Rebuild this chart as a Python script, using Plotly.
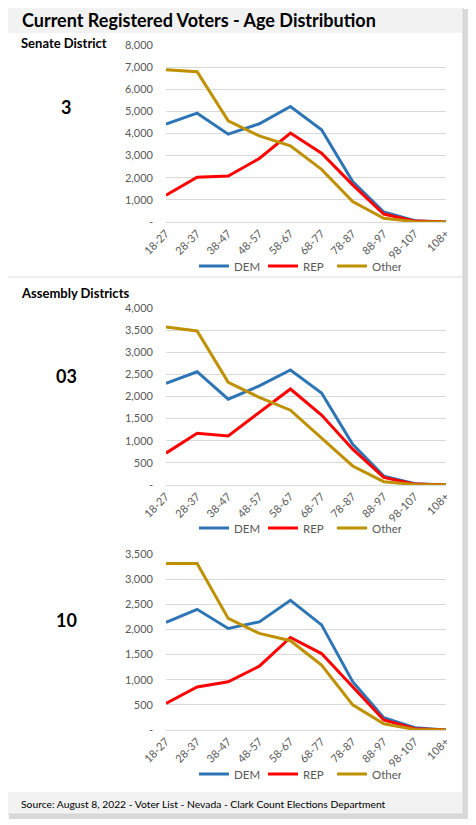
import plotly.graph_objects as go

# age bands shared by all three charts
age_groups = ['18-27', '28-37', '38-47', '48-57', '58-67',
              '68-77', '78-87', '88-97', '98-107', '108+']

# Senate District 3
sd3_dem = [4420, 4920, 3970, 4440, 5220, 4170, 1830, 450, 60, 5]
sd3_rep = [1210, 2020, 2080, 2870, 4020, 3110, 1680, 360, 40, 0]
sd3_other = [6880, 6790, 4570, 3890, 3440, 2380, 920, 170, 15, 0]

# Assembly District 03
ad03_dem = [2300, 2560, 1940, 2240, 2600, 2080, 920, 200, 30, 0]
ad03_rep = [720, 1170, 1110, 1640, 2170, 1580, 810, 170, 20, 0]
ad03_other = [3570, 3480, 2320, 1980, 1690, 1060, 430, 75, 10, 0]

# Assembly District 10
ad10_dem = [2140, 2400, 2020, 2150, 2580, 2090, 960, 245, 45, 0]
ad10_rep = [530, 855, 960, 1270, 1840, 1520, 860, 200, 25, 0]
ad10_other = [3310, 3310, 2220, 1920, 1775, 1290, 500, 125, 10, 0]

party_names = ['DEM', 'REP', 'Other']
party_colors = ['#2e75b6', '#ff0000', '#bf9000']

# the page body adds an 8px margin, so the figure is made 8px smaller
OFF = 8
W, H = 476 - OFF, 825 - OFF
FONT = 'Lato'


def px_x(v):
    return (v - OFF) / W


def px_y(v):
    # pixel from top of the window -> paper fraction
    return 1 - (v - OFF) / H


fig = go.Figure()

charts = [
    # (series, y max, tick step, top px, bottom px, legend y px)
    ([sd3_dem, sd3_rep, sd3_other], 8000, 1000, 45, 222, 266),
    ([ad03_dem, ad03_rep, ad03_other], 4000, 500, 308, 485, 528),
    ([ad10_dem, ad10_rep, ad10_other], 3500, 500, 554, 730, 774),
]

for i, (series, ymax, step, top, bottom, leg_y) in enumerate(charts):
    n = i + 1
    xa = 'x' if n == 1 else 'x%d' % n
    ya = 'y' if n == 1 else 'y%d' % n
    leg = 'legend' if n == 1 else 'legend%d' % n
    for name, vals, col in zip(party_names, series, party_colors):
        fig.add_trace(go.Scatter(
            x=age_groups, y=vals, name=name, mode='lines',
            line=dict(color=col, width=3),
            xaxis=xa, yaxis=ya, legend=leg,
        ))

    tickvals = list(range(0, ymax + 1, step))
    ticktext = ['-'] + ['{:,}'.format(v) for v in tickvals[1:]]

    fig.update_layout(**{
        ('xaxis' if n == 1 else 'xaxis%d' % n): dict(
            domain=[px_x(166), px_x(446)], anchor=ya,
            type='category', tickangle=-45, automargin=False,
            showgrid=False, showline=True, linecolor='#d9d9d9',
            ticks='', tickfont=dict(family=FONT, size=11, color='#595959'),
        ),
        ('yaxis' if n == 1 else 'yaxis%d' % n): dict(
            domain=[px_y(bottom), px_y(top)], anchor=xa,
            range=[0, ymax], tickvals=tickvals, ticktext=ticktext,
            showgrid=True, gridcolor='#d9d9d9', gridwidth=1,
            zeroline=False, showline=False, ticks='', automargin=False,
            ticklabelstandoff=12,
            tickfont=dict(family=FONT, size=11, color='#595959'),
        ),
        leg: dict(
            orientation='h', x=px_x(194), xanchor='left',
            y=px_y(leg_y), yanchor='middle',
            font=dict(family=FONT, size=11.5, color='#595959'),
            bgcolor='rgba(0,0,0,0)', itemwidth=30,
            entrywidth=24, entrywidthmode='pixels',
            tracegroupgap=0,
        ),
    })

# frame, shadow, title band, divider, footer band
shapes = [
    dict(type='rect', x0=9, x1=468, y0=9, y1=819,
         fillcolor='#bfbfbf', line=dict(width=0), opacity=0.6),
    dict(type='rect', x0=6, x1=463, y0=6, y1=814,
         fillcolor='white', line=dict(color='#d0d0d0', width=1)),
    dict(type='rect', x0=7, x1=462, y0=7, y1=33,
         fillcolor='#f2f2f2', line=dict(width=0)),
    dict(type='line', x0=7, x1=462, y0=277, y1=277,
         line=dict(color='#d9d9d9', width=1)),
    dict(type='rect', x0=7, x1=462, y0=792, y1=813,
         fillcolor='#f2f2f2', line=dict(width=0)),
]
for s in shapes:
    s.update(xref='paper', yref='paper', layer='below')
    s['x0'], s['x1'] = px_x(s['x0']), px_x(s['x1'])
    s['y0'], s['y1'] = px_y(s['y0']), px_y(s['y1'])
fig.update_layout(shapes=shapes)

texts = [
    ('<b>Current Registered Voters - Age Distribution</b>', 20, 20, 18, 'left'),
    ('<b>Senate District</b>', 19, 43, 13, 'left'),
    ('<b>3</b>', 66, 107, 18, 'center'),
    ('<b>Assembly Districts</b>', 19, 293, 13, 'left'),
    ('<b>03</b>', 66, 376, 18, 'center'),
    ('<b>10</b>', 66, 620, 18, 'center'),
]
for txt, x, y, size, anchor in texts:
    fig.add_annotation(
        text=txt, x=px_x(x), y=px_y(y), xref='paper', yref='paper',
        xanchor=anchor, yanchor='middle', showarrow=False,
        font=dict(family=FONT, size=size, color='black'),
    )
fig.add_annotation(
    text='Source: August 8, 2022 - Voter List - Nevada - Clark Count Elections Department',
    x=px_x(19), y=px_y(804), xref='paper', yref='paper',
    xanchor='left', yanchor='middle', showarrow=False,
    font=dict(family=FONT, size=10.3, color='black'),
)

fig.update_layout(
    width=W, height=H,
    margin=dict(l=0, r=0, t=0, b=0, autoexpand=False),
    paper_bgcolor='white', plot_bgcolor='rgba(0,0,0,0)',
    font=dict(family=FONT),
)

fig.write_html('out.html')
